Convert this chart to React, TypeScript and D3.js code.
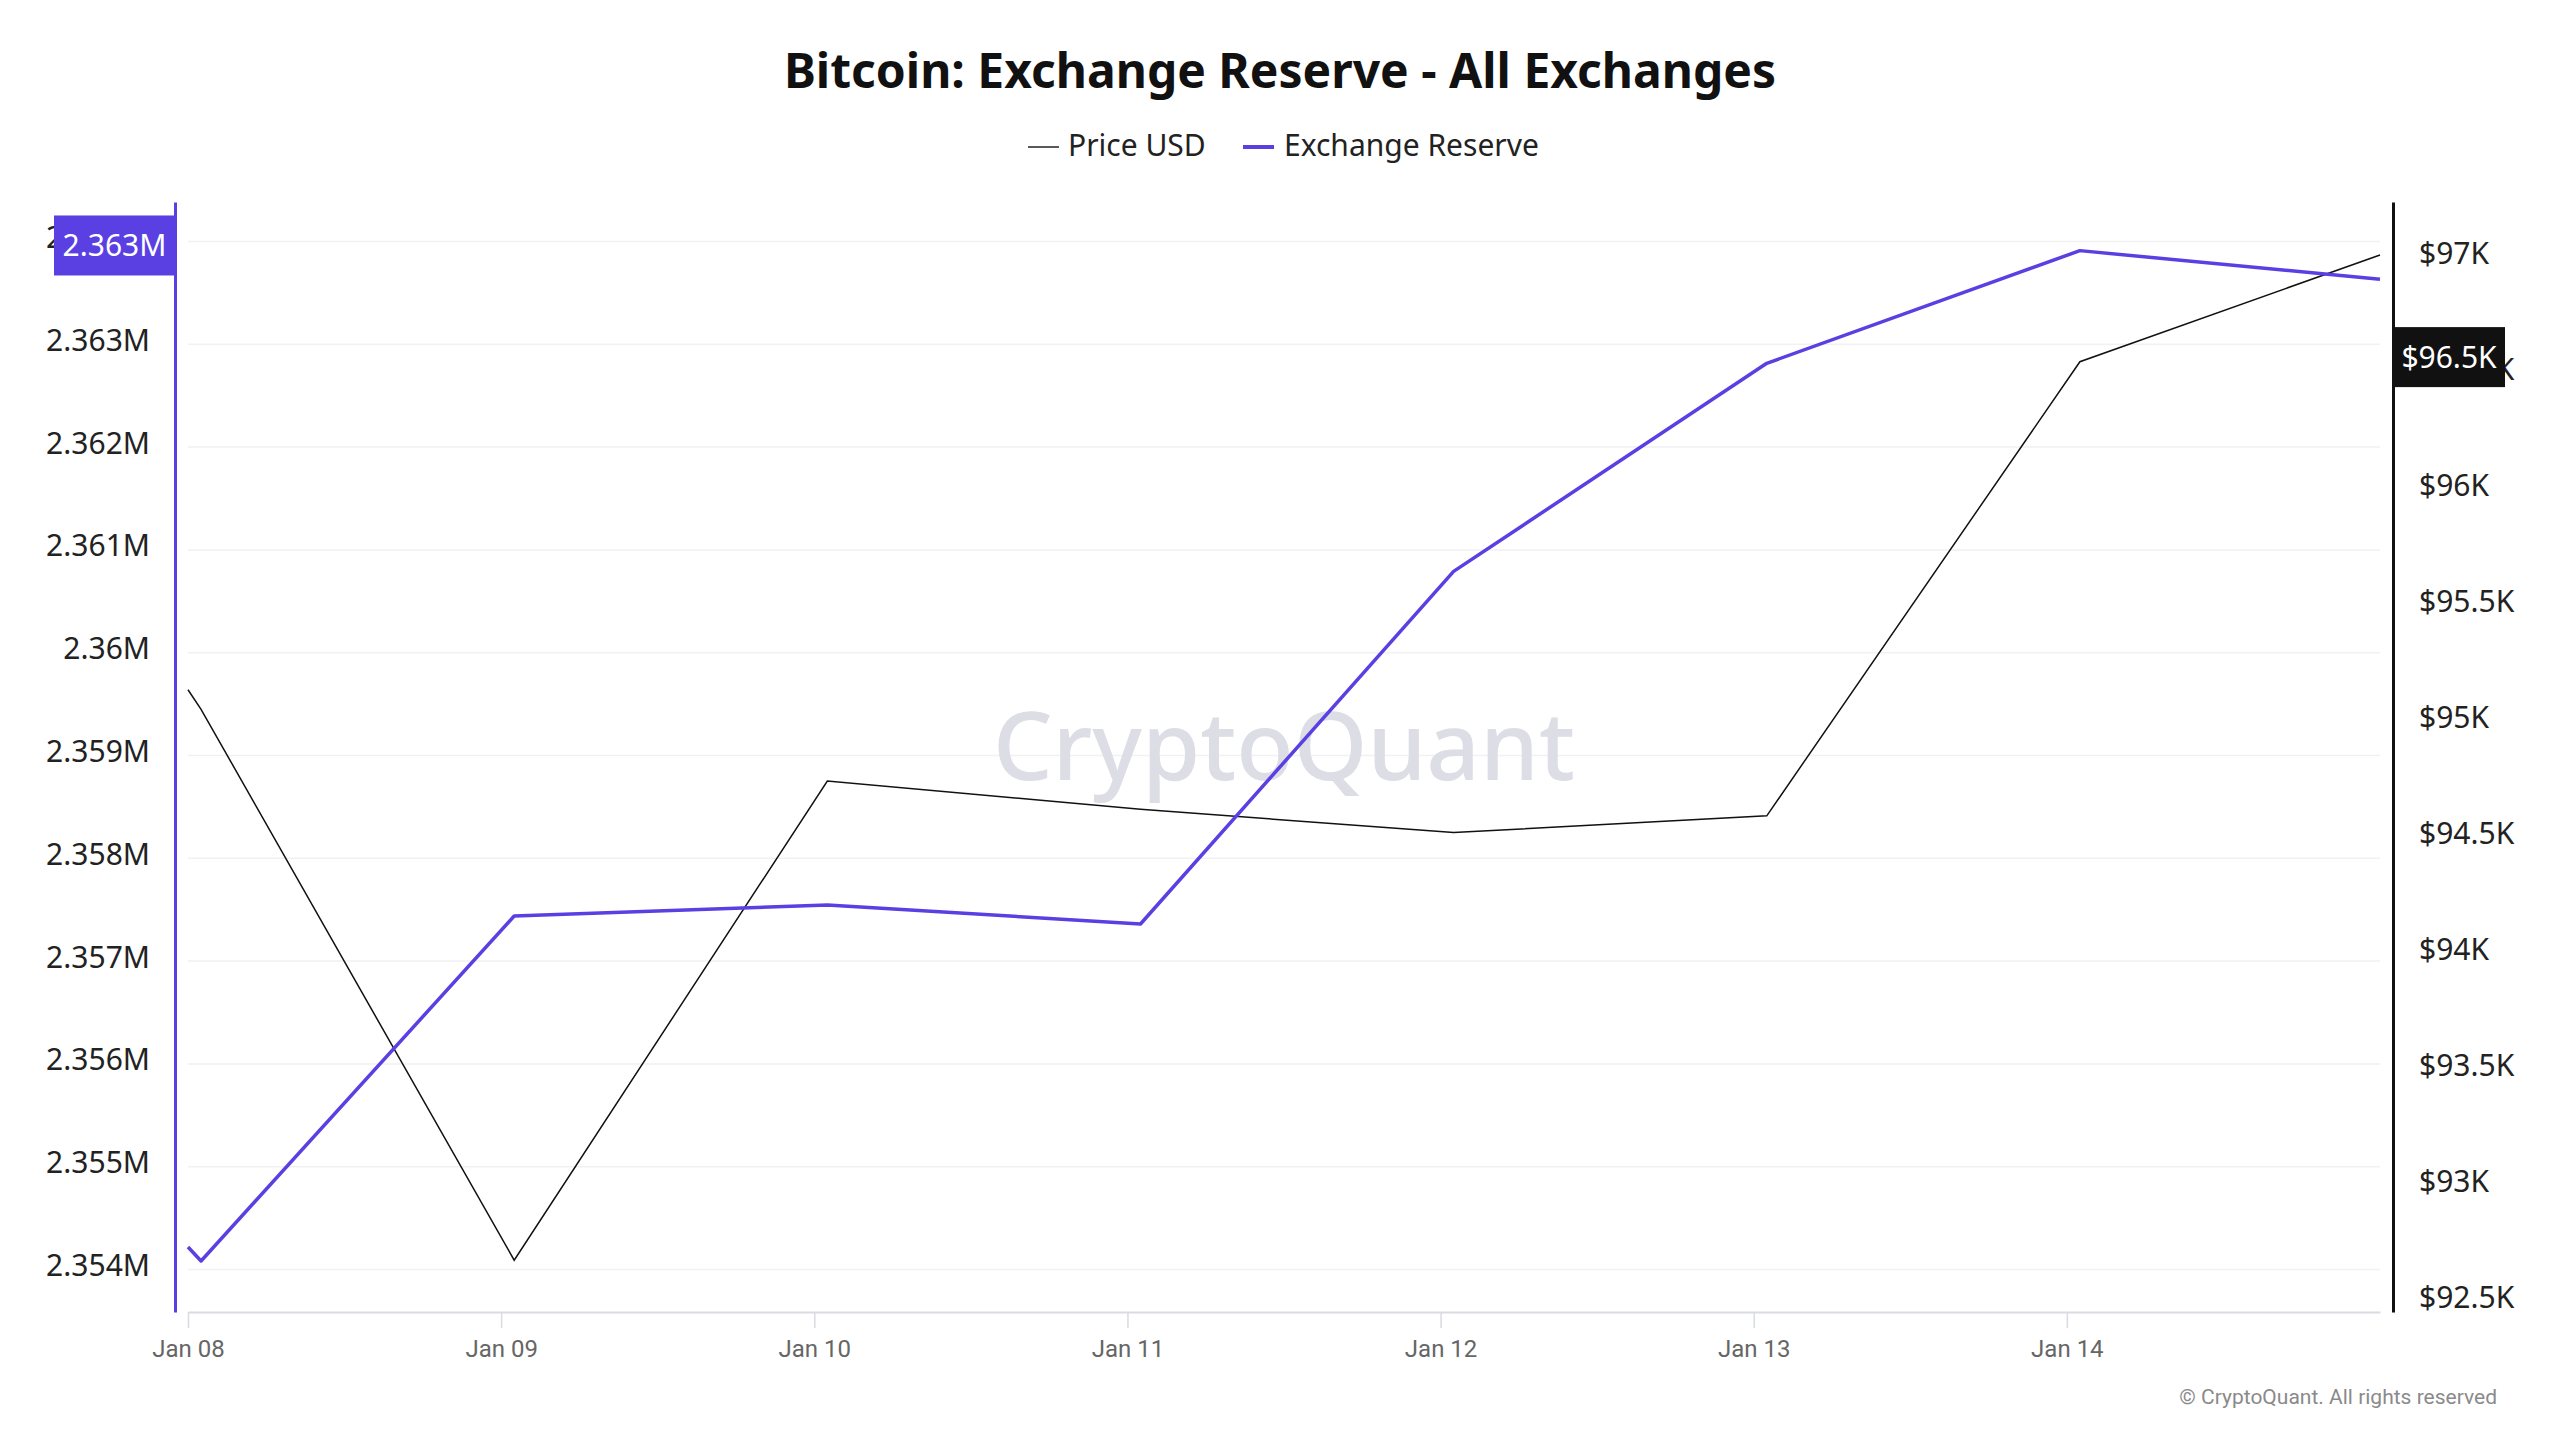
import React, { useEffect, useRef } from 'react';
import * as d3 from 'd3';

// data
const dates = [
  '2025-01-08T00:00:00Z',
  '2025-01-08T01:00:00Z',
  '2025-01-09T01:00:00Z',
  '2025-01-10T01:00:00Z',
  '2025-01-11T01:00:00Z',
  '2025-01-12T01:00:00Z',
  '2025-01-13T01:00:00Z',
  '2025-01-14T01:00:00Z',
  '2025-01-15T00:00:00Z',
];
const reserve = [2354219, 2354083, 2357439, 2357546, 2357361, 2360791, 2362815, 2363911, 2363632];
const price = [95136, 95052, 92679, 94743, 94621, 94521, 94593, 96549, 97009];

const xTickDates = [
  '2025-01-08T00:00:00Z',
  '2025-01-09T00:00:00Z',
  '2025-01-10T00:00:00Z',
  '2025-01-11T00:00:00Z',
  '2025-01-12T00:00:00Z',
  '2025-01-13T00:00:00Z',
  '2025-01-14T00:00:00Z',
];
const xTickLabels = ['Jan 08', 'Jan 09', 'Jan 10', 'Jan 11', 'Jan 12', 'Jan 13', 'Jan 14'];
const reserveTicks = [2354000, 2355000, 2356000, 2357000, 2358000, 2359000, 2360000, 2361000, 2362000, 2363000, 2364000];
const priceTicks = [92500, 93000, 93500, 94000, 94500, 95000, 95500, 96000, 96500, 97000];

const reserveBadge = '2.363M';
const priceBadge = '$96.5K';

const PURPLE = '#5a3fe2';
const FONT = '"Noto Sans", sans-serif';

export default function App() {
  const ref = useRef(null);

  useEffect(() => {
    draw();
    // eslint-disable-next-line react-hooks/exhaustive-deps
  }, []);

  function draw() {
    const svg = d3.select(ref.current);
    svg.selectAll('*').remove();

    const left = 188;
    const right = 2380;
    const top = 202;
    const bottom = 1312;

    const x = d3
      .scaleUtc()
      .domain([new Date('2025-01-08T00:00:00Z'), new Date('2025-01-15T00:00:00Z')])
      .range([left, right]);
    const yL = d3.scaleLinear().domain([2353587, 2364384]).range([bottom, top]);
    const yR = d3.scaleLinear().domain([92456, 97237]).range([bottom, top]);

    svg.append('rect').attr('width', 2560).attr('height', 1440).attr('fill', '#fff');

    // title + legend
    svg
      .append('text')
      .text('Bitcoin: Exchange Reserve - All Exchanges')
      .attr('x', 1280)
      .attr('y', 88)
      .attr('text-anchor', 'middle')
      .attr('font-family', FONT)
      .attr('font-weight', 700)
      .attr('font-size', 48)
      .attr('fill', '#111');

    const legend = svg.append('g').attr('font-family', FONT).attr('font-size', 30).attr('fill', '#222');
    legend.append('line').attr('x1', 1028).attr('x2', 1059).attr('y1', 147).attr('y2', 147).attr('stroke', '#222').attr('stroke-width', 1.5);
    legend.append('text').text('Price USD').attr('x', 1068).attr('y', 156);
    legend.append('line').attr('x1', 1243).attr('x2', 1274).attr('y1', 147).attr('y2', 147).attr('stroke', PURPLE).attr('stroke-width', 4);
    legend.append('text').text('Exchange Reserve').attr('x', 1284).attr('y', 156);

    // gridlines
    svg
      .append('g')
      .selectAll('line')
      .data(reserveTicks)
      .enter()
      .append('line')
      .attr('x1', left)
      .attr('x2', right)
      .attr('y1', (d) => yL(d))
      .attr('y2', (d) => yL(d))
      .attr('stroke', '#f1f1f3')
      .attr('stroke-width', 1.5);

    // watermark
    svg
      .append('text')
      .text('CryptoQuant')
      .attr('x', 1284)
      .attr('y', 780)
      .attr('text-anchor', 'middle')
      .attr('font-family', FONT)
      .attr('font-weight', 500)
      .attr('font-size', 94)
      .attr('fill', '#dcdde5');

    // x axis
    const xAxis = d3
      .axisBottom(x)
      .tickValues(xTickDates.map((d) => new Date(d)))
      .tickFormat((d, i) => xTickLabels[i])
      .tickSize(16)
      .tickSizeOuter(0)
      .tickPadding(12);
    const gx = svg.append('g').attr('transform', `translate(0,${bottom})`).call(xAxis);
    gx.select('.domain').attr('stroke', '#d9dbe2').attr('stroke-width', 2);
    gx.selectAll('.tick line').attr('stroke', '#d9dbe2').attr('stroke-width', 1.5);
    gx.selectAll('text').attr('font-family', 'Roboto, sans-serif').attr('font-size', 24).attr('fill', '#666');

    // left axis
    const fmtM = (v) => `${+(v / 1e6).toFixed(3)}M`;
    const gl = svg
      .append('g')
      .attr('transform', 'translate(175,0)')
      .call(d3.axisLeft(yL).tickValues(reserveTicks).tickFormat(fmtM).tickSize(0).tickSizeOuter(0).tickPadding(25));
    gl.select('.domain').attr('stroke', PURPLE).attr('stroke-width', 3);
    gl.selectAll('text').attr('font-family', FONT).attr('font-size', 30).attr('fill', '#222').attr('dy', '0.2em');

    // right axis
    const fmtK = (v) => `$${+(v / 1000).toFixed(1)}K`;
    const gr = svg
      .append('g')
      .attr('transform', 'translate(2393,0)')
      .call(d3.axisRight(yR).tickValues(priceTicks).tickFormat(fmtK).tickSize(0).tickSizeOuter(0).tickPadding(26));
    gr.select('.domain').attr('stroke', '#111').attr('stroke-width', 3);
    gr.selectAll('text').attr('font-family', FONT).attr('font-size', 30).attr('fill', '#222').attr('dy', '0.2em');

    // lines
    const pts = dates.map((d, i) => ({ t: new Date(d), r: reserve[i], p: price[i] }));
    svg
      .append('path')
      .datum(pts)
      .attr('fill', 'none')
      .attr('stroke', '#111')
      .attr('stroke-width', 1.5)
      .attr('d', d3.line().x((d) => x(d.t)).y((d) => yR(d.p)));
    svg
      .append('path')
      .datum(pts)
      .attr('fill', 'none')
      .attr('stroke', PURPLE)
      .attr('stroke-width', 3.5)
      .attr('stroke-linejoin', 'round')
      .attr('d', d3.line().x((d) => x(d.t)).y((d) => yL(d.r)));

    // value badges
    const lb = yL(2364000) + 4;
    svg.append('rect').attr('x', 54).attr('y', lb - 30).attr('width', 121).attr('height', 60).attr('fill', PURPLE);
    svg
      .append('text')
      .text(reserveBadge)
      .attr('x', 114.5)
      .attr('y', lb)
      .attr('dy', '0.35em')
      .attr('text-anchor', 'middle')
      .attr('font-family', FONT)
      .attr('font-size', 30)
      .attr('fill', '#fff');

    const rb = yR(96500) - 16;
    svg.append('rect').attr('x', 2394).attr('y', rb - 30).attr('width', 111).attr('height', 60).attr('fill', '#111');
    svg
      .append('text')
      .text(priceBadge)
      .attr('x', 2449)
      .attr('y', rb)
      .attr('dy', '0.35em')
      .attr('text-anchor', 'middle')
      .attr('font-family', FONT)
      .attr('font-size', 30)
      .attr('fill', '#fff');

    // copyright
    svg
      .append('text')
      .text('© CryptoQuant. All rights reserved')
      .attr('x', 2497)
      .attr('y', 1404)
      .attr('text-anchor', 'end')
      .attr('font-family', 'Roboto, sans-serif')
      .attr('font-size', 21)
      .attr('fill', '#8a8a8a');
  }

  return (
    <div style={{ position: 'absolute', left: 0, top: 0 }}>
      <svg ref={ref} width={2560} height={1440} style={{ display: 'block' }}></svg>
    </div>
  );
}
